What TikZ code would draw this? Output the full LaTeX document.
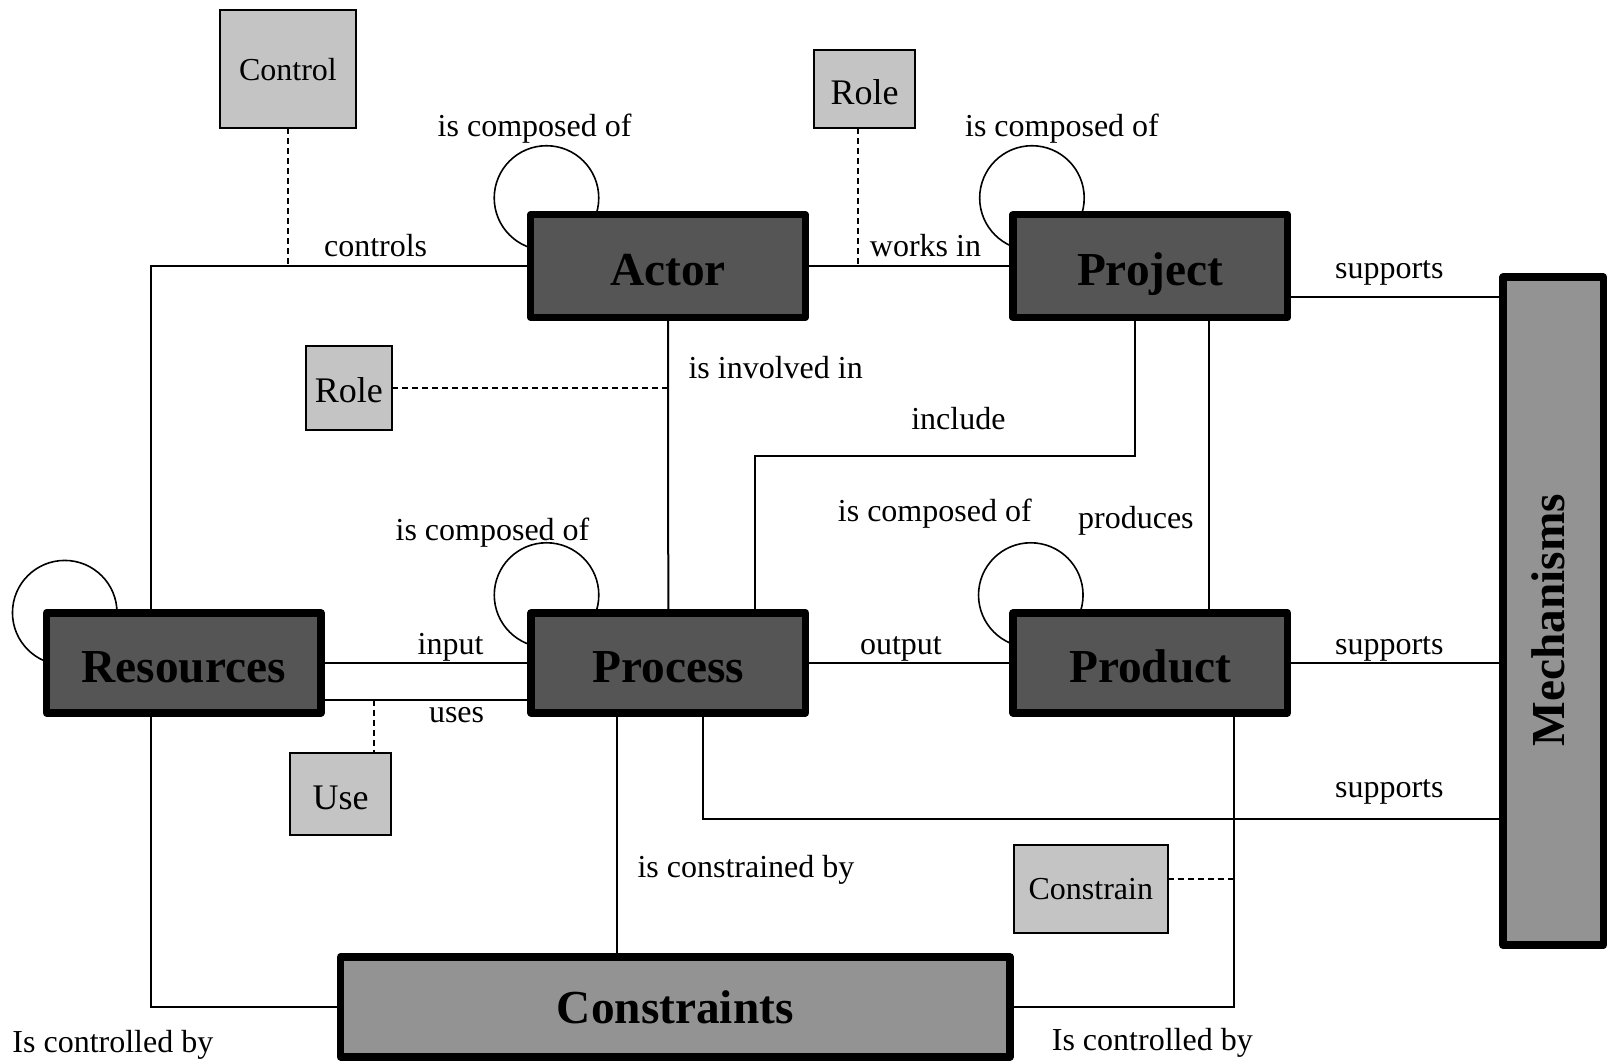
\documentclass[tikz,border=0pt]{standalone}
\usepackage{fontspec}
\setmainfont{Liberation Serif}
\usetikzlibrary{calc,backgrounds}
\definecolor{entityfill}{HTML}{555555}
\definecolor{framefill}{HTML}{939393}
\definecolor{notefill}{HTML}{C4C4C4}
\begin{document}
\begin{tikzpicture}[x=0.75pt,y=-0.75pt,
  entitybox/.style={draw=black, line width=5.6pt, line join=round, fill=entityfill,
    inner sep=0pt, outer sep=0pt, minimum width=205.9pt,
    text height=28.8pt, text depth=0pt,
    font=\fontsize{35.5}{40}\selectfont\bfseries},
  upperbox/.style={entitybox, minimum height=76.9pt},
  lowerbox/.style={entitybox, minimum height=74.8pt},
  framebox/.style={draw=black, line width=5.6pt, line join=round, fill=framefill,
    inner sep=0pt, outer sep=0pt, font=\fontsize{35.5}{40}\selectfont\bfseries},
  notebox/.style={draw=black, line width=1.5pt, fill=notefill, inner sep=0pt, outer sep=0pt},
  smalltext/.style={font=\fontsize{24}{28}\selectfont},
  bigtext/.style={font=\fontsize{27}{32}\selectfont, text height=22.4pt, text depth=0pt},
  lbl/.style={inner sep=0pt, text height=16.3pt, text depth=0pt, font=\fontsize{24}{28}\selectfont},
  conn/.style={draw=black, line width=1.5pt},
  dashconn/.style={draw=black, line width=1.5pt, dash pattern=on 4.5pt off 3pt},
  loop/.style={draw=black, line width=1.2pt}
]
\useasboundingbox (0,0) rectangle (1609,1061);

% main entities
\node[upperbox] (actor)     at (668,266)      {Actor};
\node[upperbox] (project)   at (1150.2,266)   {Project};
\node[lowerbox] (resources) at (183.8,662.9)  {Resources};
\node[lowerbox] (process)   at (668.3,662.9)  {Process};
\node[lowerbox] (product)   at (1150.2,662.9) {Product};
\node[framebox, minimum width=502.3pt, minimum height=74.8pt] (cons) at (675.3,1006.9) {Constraints};
\node[framebox, minimum width=75.2pt, minimum height=501pt] (mech) at (1553.2,611.2)
  {\rotatebox{90}{\raisebox{7.5pt}{Mechanisms}\hspace{13.5pt}}};

% association classes
\node[notebox, smalltext, minimum width=102.4pt, minimum height=88.5pt] (control)   at (287.9,69.3)  {Control};
\node[notebox, bigtext,   minimum width=76.2pt,  minimum height=58.5pt] (roleT)     at (864.5,89.3)  {Role};
\node[notebox, bigtext,   minimum width=64.65pt, minimum height=63pt]   (roleM)     at (348.9,387.9) {Role};
\node[notebox, bigtext,   minimum width=75.45pt, minimum height=61.5pt] (use)       at (340.7,794.2) {Use};
\node[notebox, smalltext, minimum width=115.5pt, minimum height=66pt]   (constrain) at (1090.8,888.7) {Constrain};

% self-association loops, kept behind the boxes
\begin{pgfonlayer}{background}
  \fill[white] (0,0) rectangle (1609,1061);
  \draw[loop] ([shift={(15.75,-16.75)}]actor.north west)   circle[radius=39.2pt];
  \draw[loop] ([shift={(19,-16.75)}]project.north west)    circle[radius=39.2pt];
  \draw[loop] ([shift={(15.5,-18)}]process.north west)     circle[radius=39.2pt];
  \draw[loop] ([shift={(17.85,-18)}]product.north west)    circle[radius=39.2pt];
  \draw[loop] ([shift={(18.2,-0.35)}]resources.north west) circle[radius=39.2pt];
\end{pgfonlayer}

% rails and bend points
\coordinate (railL) at (150.8,0);
\coordinate (railR) at (1234.4,0);
\coordinate (roleTx) at (857.8,0);
\coordinate (sup1) at (0,296.5);
\coordinate (incA) at (1134.9,455.6);
\coordinate (incB) at (755.2,455.6);
\coordinate (prodx) at (1208.7,0);
\coordinate (usey) at (0,699.8);
\coordinate (usex) at (373.5,699.8);
\coordinate (sup3) at (702.9,818.8);
\coordinate (consx) at (616.7,0);
\coordinate (cdash) at (0,879.4);

% connectors
\draw[conn] (actor.west) -| (railL |- resources.north);
\draw[dashconn] (control.south) -- (control.south |- actor.west);
\draw[conn] (actor.east) -- (project.west);
\draw[dashconn] (roleTx |- roleT.south) -- (roleTx |- actor.east);
\draw[conn] (sup1 -| project.east) -- (sup1 -| mech.west);
\draw[conn] (actor.south) -- (process.north);
\draw[dashconn] (roleM.east) -- (roleM.east -| actor.south);
\draw[conn] (incA |- project.south) -- (incA) -- (incB) -- (incB |- process.north);
\draw[conn] (prodx |- project.south) -- (prodx |- product.north);
\draw[conn] (resources.east) -- (process.west);
\draw[conn] (usey -| resources.east) -- (usey -| process.west);
\draw[dashconn] (usex) -- (usex |- use.north);
\draw[conn] (process.east) -- (product.west);
\draw[conn] (product.east) -- (product.east -| mech.west);
\draw[conn] (sup3 |- process.south) -- (sup3) -- (sup3 -| mech.west);
\draw[conn] (consx |- process.south) -- (consx |- cons.north);
\draw[conn] (railL |- resources.south) |- (cons.west);
\draw[conn] (railR |- product.south) |- (cons.east);
\draw[dashconn] (cdash -| constrain.east) -- (cdash -| railR);

% connector labels
\node[lbl] (lActorComp)   at (534.6,125.2)  {is composed of};
\node[lbl] (lControls)    at (375.6,245.2)  {controls};
\node[lbl] (lWorks)       at (925.5,245.2)  {works in};
\node[lbl] (lProjComp)    at (1062,125.2)   {is composed of};
\node[lbl] (lSup1)        at (1389.3,267.8) {supports};
\node[lbl] (lInvolved)    at (775.7,367.3)  {is involved in};
\node[lbl] (lInclude)     at (958.4,418.7)  {include};
\node[lbl] (lProdComp)    at (934.8,511)    {is composed of};
\node[lbl] (lProduces)    at (1135.9,517.2) {produces};
\node[lbl] (lProcComp)    at (492.5,529.5)  {is composed of};
\node[lbl] (lInput)       at (450.5,643.4)  {input};
\node[lbl] (lOutput)      at (900.9,643.4)  {output};
\node[lbl] (lSup2)        at (1389.3,643.4) {supports};
\node[lbl] (lUses)        at (456.6,712.1)  {uses};
\node[lbl] (lSup3)        at (1389.3,787)   {supports};
\node[lbl] (lConstrained) at (746,867)      {is constrained by};
\node[lbl] (lCtrlL)       at (112.9,1041.5) {Is controlled by};
\node[lbl] (lCtrlR)       at (1152.3,1039.4){Is controlled by};
\end{tikzpicture}
\end{document}
